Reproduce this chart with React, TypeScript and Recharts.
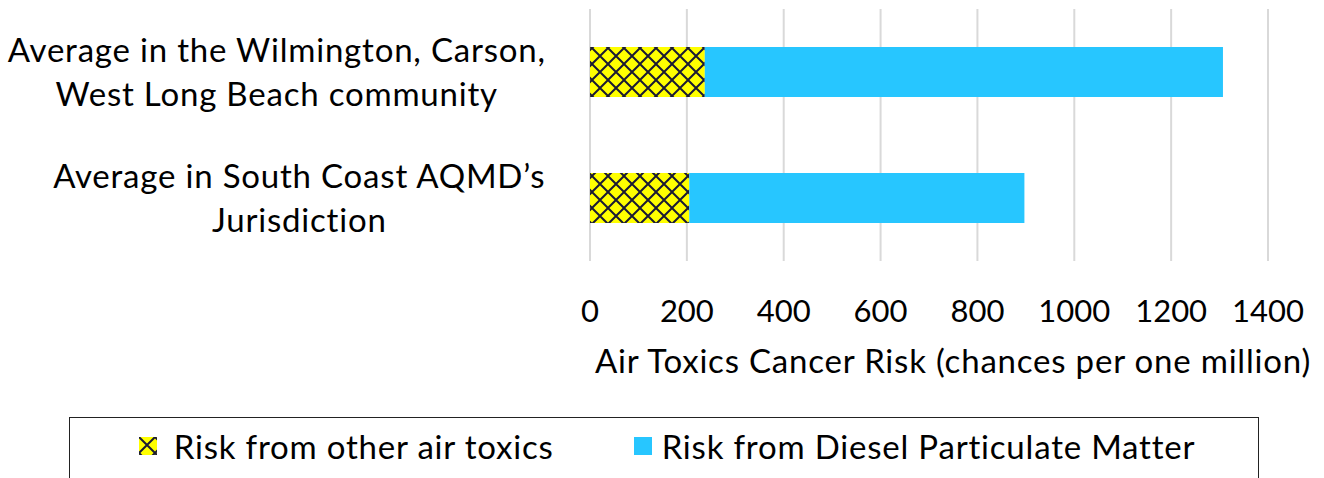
import React from "react";
import { BarChart, Bar, XAxis, YAxis, CartesianGrid, Legend, Label } from "recharts";

const categories = [
  "Average in the Wilmington, Carson,\nWest Long Beach community",
  "Average in South Coast AQMD\u2019s\nJurisdiction",
];
const otherToxics = [237, 205];
const dieselPM = [1070, 692];
const xTicks = [0, 200, 400, 600, 800, 1000, 1200, 1400];
const seriesNames = ["Risk from other air toxics", "Risk from Diesel Particulate Matter"];

const data = categories.map((c, i) => ({ name: c, other: otherToxics[i], diesel: dieselPM[i] }));

const FONT = "Lato, 'Open Sans', sans-serif";
const FS = 33;
const LS = 0.8;
const TICK_FS = 31;
const BLUE = "#27C6FF";
const YELLOW = "#FFFF00";
const HATCH = "#1a1a33";

let ctx: CanvasRenderingContext2D | null = null;
const measure = (t: string) => {
  if (!ctx) ctx = document.createElement("canvas").getContext("2d");
  if (!ctx) return t.length * 16;
  ctx.font = `${FS}px Lato`;
  return ctx.measureText(t).width + t.length * LS;
};

const PatternDef = ({ id }: { id: string }) => (
  <pattern id={id} patternUnits="userSpaceOnUse" width="16" height="16">
    <rect width="16" height="16" fill={YELLOW} />
    <path d="M0,0 L16,16 M16,0 L0,16" stroke={HATCH} strokeWidth="2" />
  </pattern>
);

const CatTick = (props: any) => {
  const { x, y, payload } = props;
  const lines: string[] = String(payload.value).split("\n");
  const maxW = Math.max(...lines.map(measure));
  const cx = x - maxW / 2;
  const lh = 44;
  const start = y - ((lines.length - 1) * lh) / 2;
  return (
    <g>
      {lines.map((l, i) => (
        <text
          key={i}
          x={cx}
          y={start + i * lh}
          dy={12}
          textAnchor="middle"
          fill="#000"
          fontSize={FS}
          fontFamily={FONT}
          letterSpacing={LS}
        >
          {l}
        </text>
      ))}
    </g>
  );
};

const LegendContent = () => (
  <div
    style={{
      boxSizing: "border-box",
      width: 1190,
      height: 70,
      border: "1.5px solid #222",
      display: "flex",
      alignItems: "flex-start",
      justifyContent: "center",
      paddingTop: 8,
      paddingLeft: 6,
      fontFamily: FONT,
      fontSize: FS,
      letterSpacing: LS,
      color: "#000",
      background: "#fff",
      lineHeight: "40px",
    }}
  >
    <div style={{ display: "flex", alignItems: "center", marginRight: 80 }}>
      <svg width="18" height="18" style={{ marginRight: 17 }}>
        <defs>
          <PatternDef id="diamondLegend" />
        </defs>
        <rect width="18" height="18" fill="url(#diamondLegend)" />
      </svg>
      <span>{seriesNames[0]}</span>
    </div>
    <div style={{ display: "flex", alignItems: "center" }}>
      <svg width="18" height="18" style={{ marginRight: 10 }}>
        <rect width="18" height="18" fill={BLUE} />
      </svg>
      <span>{seriesNames[1]}</span>
    </div>
  </div>
);

export default function App() {
  return (
    <div style={{ position: "absolute", left: 0, top: 0, width: 1324, height: 478, background: "#fff", overflow: "hidden" }}>
      <BarChart
        width={1324}
        height={478}
        data={data}
        layout="vertical"
        margin={{ top: 9, right: 56, left: 0, bottom: 87 }}
      >
        <defs>
          <PatternDef id="diamond" />
        </defs>
        <CartesianGrid horizontal={false} vertical stroke="#d9d9d9" strokeWidth={2} />
        <XAxis
          type="number"
          domain={[0, 1400]}
          ticks={xTicks}
          axisLine={false}
          tickLine={false}
          tickMargin={33}
          height={130}
          tick={{ fill: "#000", fontSize: TICK_FS, fontFamily: FONT }}
          interval={0}
        >
          <Label
            value="Air Toxics Cancer Risk (chances per one million)"
            position="bottom"
            offset={-41}
            dx={24}
            fill="#000"
            fontSize={FS}
            fontFamily={FONT}
            letterSpacing={LS}
          />
        </XAxis>
        <YAxis
          type="category"
          dataKey="name"
          width={590}
          axisLine={false}
          tickLine={false}
          tickMargin={38}
          tick={<CatTick />}
          interval={0}
        />
        <Bar dataKey="other" name={seriesNames[0]} stackId="a" fill="url(#diamond)" barSize={50} isAnimationActive={false} />
        <Bar dataKey="diesel" name={seriesNames[1]} stackId="a" fill={BLUE} barSize={50} isAnimationActive={false} />
        <Legend
          layout="vertical"
          align="center"
          verticalAlign="middle"
          content={<LegendContent />}
          wrapperStyle={{ position: "absolute", left: 69, top: 417, width: 1190, height: 70 }}
        />
      </BarChart>
    </div>
  );
}
